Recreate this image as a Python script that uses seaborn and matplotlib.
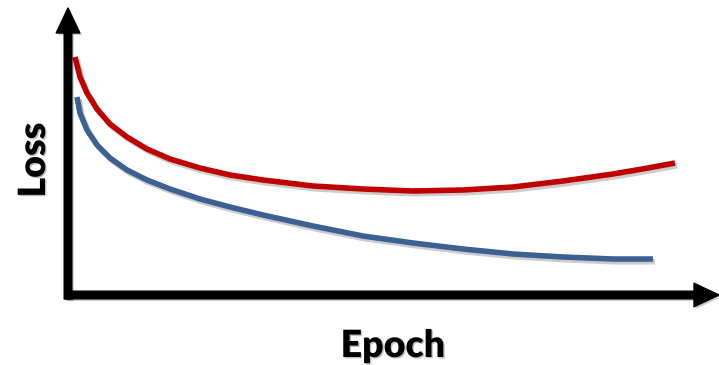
import pandas as pd
import seaborn as sns
import matplotlib.pyplot as plt
import matplotlib.patheffects as pe

# curve points (epoch, loss), arbitrary units
val_epoch = [7, 12, 19, 29, 42, 59, 79, 102, 132, 162, 195, 245, 295, 345, 395, 445, 495, 545, 580, 607]
val_loss = [238, 218, 202, 186, 171, 158, 146, 136, 127, 120, 115, 109, 106, 104, 105, 108, 114, 121, 127, 132]

train_epoch = [9, 12, 19, 29, 42, 59, 79, 102, 132, 162, 195, 245, 295, 345, 395, 445, 495, 545, 585]
train_loss = [198, 182, 165, 150, 137, 125, 115, 106, 96, 88, 80, 69, 59, 52, 46, 41, 38, 36, 36]

sns.set_style('white')
plt.rcParams['font.family'] = ['Lato', 'DejaVu Sans']

fig = plt.figure(figsize=(7.19, 3.65), dpi=100)
ax = fig.add_axes([68 / 719, 70 / 365, 651 / 719, 295 / 365])

val_df = pd.DataFrame({'epoch': val_epoch, 'loss': val_loss})
train_df = pd.DataFrame({'epoch': train_epoch, 'loss': train_loss})

sns.lineplot(data=val_df, x='epoch', y='loss', color='#C00000', lw=4, ax=ax, sort=False)
sns.lineplot(data=train_df, x='epoch', y='loss', color='#3B6091', lw=4, ax=ax, sort=False)
line_shadow = [pe.SimpleLineShadow(offset=(1.5, -2), alpha=0.2), pe.Normal()]
for line in ax.lines:
    line.set_path_effects(line_shadow)
    line.set_solid_capstyle('butt')
    line.set_solid_joinstyle('round')

ax.set_xlim(0, 651)
ax.set_ylim(0, 295)
for s in ax.spines.values():
    s.set_visible(False)
ax.set_xticks([])
ax.set_yticks([])
ax.set_xlabel('')
ax.set_ylabel('')

# axis arrows
patch_shadow = [pe.SimplePatchShadow(offset=(1.5, -1.5), alpha=0.2), pe.Normal()]
arrow = dict(facecolor='black', edgecolor='black', width=5.5, headwidth=17, headlength=18,
             shrink=0, path_effects=patch_shadow)
ax.annotate('', xy=(0, 287), xytext=(0, -4), arrowprops=arrow, annotation_clip=False)
ax.annotate('', xy=(651, 0), xytext=(-3, 0), arrowprops=arrow, annotation_clip=False)

text_shadow = [pe.withSimplePatchShadow(offset=(1, -1), alpha=0.25)]
fig.text(393 / 719, 8 / 365, 'Epoch', ha='center', va='baseline', color='black',
         fontsize=27, fontweight='heavy', path_effects=text_shadow)
fig.text(45 / 719, 205 / 365, 'Loss', ha='center', va='baseline', rotation=90, color='black',
         rotation_mode='anchor', fontsize=27, fontweight='heavy', path_effects=text_shadow)

fig.savefig('out.png', dpi=100)
